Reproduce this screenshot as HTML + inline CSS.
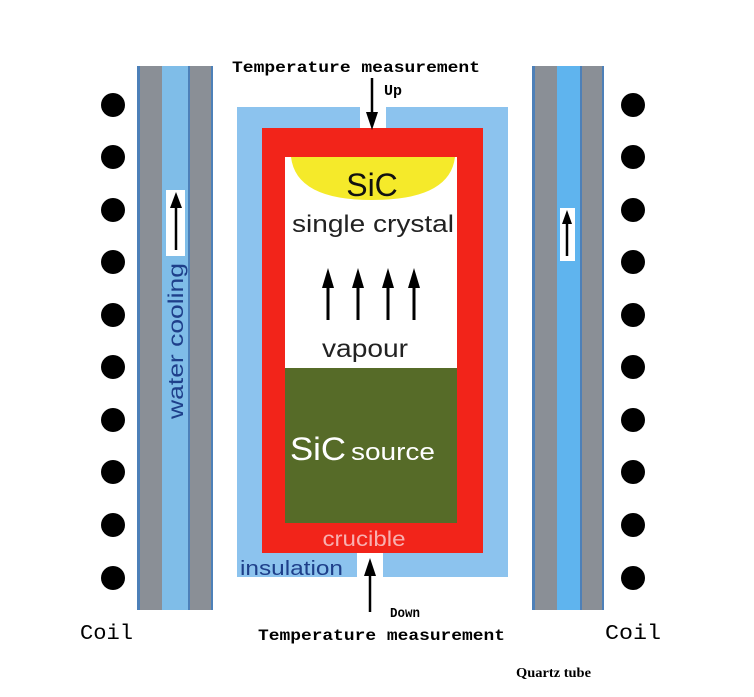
<!DOCTYPE html>
<html><head><meta charset="utf-8"><style>
html,body{margin:0;padding:0;background:#fff;}
svg{display:block;}
.mono{font-family:"Liberation Mono",monospace;font-weight:bold;}
.sans{font-family:"Liberation Sans",sans-serif;}
</style></head><body>
<svg width="754" height="697" viewBox="0 0 754 697" xmlns="http://www.w3.org/2000/svg">
<!-- left tube -->
<rect x="137" y="66" width="76" height="544" fill="#4d80b8"/>
<rect x="140" y="66" width="22" height="544" fill="#8a8f96"/>
<rect x="162" y="66" width="26" height="544" fill="#7fbde8"/>
<rect x="190" y="66" width="21" height="544" fill="#8a8f96"/>
<rect x="166" y="190" width="19" height="66" fill="#fff"/>
<line x1="176" y1="250" x2="176" y2="205" stroke="#000" stroke-width="2.5"/>
<polygon points="176,192 170,208 182,208" fill="#000"/>
<text class="sans" transform="translate(183,341) rotate(-90)" text-anchor="middle" font-size="21" fill="#1e3f8a" textLength="156" lengthAdjust="spacingAndGlyphs">water cooling</text>
<!-- right tube -->
<rect x="532" y="66" width="72" height="544" fill="#4d80b8"/>
<rect x="535" y="66" width="22" height="544" fill="#8a8f96"/>
<rect x="557" y="66" width="23" height="544" fill="#5fb4ee"/>
<rect x="582" y="66" width="20" height="544" fill="#8a8f96"/>
<rect x="560" y="208" width="15" height="53" fill="#fff"/>
<line x1="567" y1="256" x2="567" y2="222" stroke="#000" stroke-width="2.5"/>
<polygon points="567,210 562,224 572,224" fill="#000"/>
<!-- insulation -->
<rect x="237" y="107" width="271" height="470" fill="#8cc3ee"/>
<rect x="360" y="100" width="26" height="30" fill="#fff"/>
<rect x="357" y="553" width="26" height="30" fill="#fff"/>
<!-- crucible -->
<rect x="262" y="128" width="221" height="425" fill="#f2241a"/>
<rect x="285" y="157" width="172" height="211" fill="#fff"/>
<rect x="285" y="368" width="172" height="155" fill="#566b28"/>
<path d="M291,157 L455,157 Q450,200 372,200 Q296,200 291,157 Z" fill="#f5ea2a"/>
<text class="sans" x="372" y="196" text-anchor="middle" font-size="32" fill="#111">SiC</text>
<text class="sans" x="373" y="232" text-anchor="middle" font-size="24" fill="#222" textLength="162" lengthAdjust="spacingAndGlyphs">single crystal</text>
<g stroke="#000" stroke-width="3">
<line x1="328" y1="320" x2="328" y2="285"/><line x1="358" y1="320" x2="358" y2="285"/>
<line x1="388" y1="320" x2="388" y2="285"/><line x1="414" y1="320" x2="414" y2="285"/>
</g>
<g fill="#000">
<polygon points="328,268 322,288 334,288"/><polygon points="358,268 352,288 364,288"/>
<polygon points="388,268 382,288 394,288"/><polygon points="414,268 408,288 420,288"/>
</g>
<text class="sans" x="365" y="357" text-anchor="middle" font-size="25" fill="#222" textLength="86" lengthAdjust="spacingAndGlyphs">vapour</text>
<text class="sans" x="290" y="460" font-size="32" fill="#fff" textLength="56" lengthAdjust="spacingAndGlyphs">SiC</text>
<text class="sans" x="351" y="460" font-size="24" fill="#fff" textLength="84" lengthAdjust="spacingAndGlyphs">source</text>
<text class="sans" x="364" y="546" text-anchor="middle" font-size="21" fill="#f8b0b0" textLength="83" lengthAdjust="spacingAndGlyphs">crucible</text>
<text class="sans" x="240" y="575" font-size="20" fill="#1e3f8a" textLength="103" lengthAdjust="spacingAndGlyphs">insulation</text>
<!-- temp arrows -->
<line x1="372" y1="78" x2="372" y2="115" stroke="#000" stroke-width="2.5"/>
<polygon points="372,130 366,112 378,112" fill="#000"/>
<line x1="370" y1="612" x2="370" y2="575" stroke="#000" stroke-width="2.5"/>
<polygon points="370,558 364,576 376,576" fill="#000"/>
<text class="mono" x="232" y="72" font-size="16" textLength="248" lengthAdjust="spacingAndGlyphs">Temperature measurement</text>
<text class="mono" x="384" y="95" font-size="15">Up</text>
<text class="mono" x="390" y="617" font-size="14" textLength="30" lengthAdjust="spacingAndGlyphs">Down</text>
<text class="mono" x="258" y="640" font-size="16" textLength="247" lengthAdjust="spacingAndGlyphs">Temperature measurement</text>
<!-- coils -->
<g fill="#000">
<circle cx="113" cy="105" r="12"/><circle cx="113" cy="157" r="12"/><circle cx="113" cy="210" r="12"/><circle cx="113" cy="262" r="12"/><circle cx="113" cy="315" r="12"/><circle cx="113" cy="367" r="12"/><circle cx="113" cy="420" r="12"/><circle cx="113" cy="472" r="12"/><circle cx="113" cy="525" r="12"/><circle cx="113" cy="578" r="12"/>
<circle cx="633" cy="105" r="12"/><circle cx="633" cy="157" r="12"/><circle cx="633" cy="210" r="12"/><circle cx="633" cy="262" r="12"/><circle cx="633" cy="315" r="12"/><circle cx="633" cy="367" r="12"/><circle cx="633" cy="420" r="12"/><circle cx="633" cy="472" r="12"/><circle cx="633" cy="525" r="12"/><circle cx="633" cy="578" r="12"/>
</g>
<text x="80" y="639" font-family="Liberation Mono,monospace" font-size="21" textLength="53" lengthAdjust="spacingAndGlyphs">Coil</text>
<text x="605" y="639" font-family="Liberation Mono,monospace" font-size="21" textLength="56" lengthAdjust="spacingAndGlyphs">Coil</text>
<text x="516" y="677" font-family="Liberation Serif,serif" font-weight="bold" font-size="14" textLength="75" lengthAdjust="spacingAndGlyphs">Quartz tube</text>
</svg>
</body></html>
